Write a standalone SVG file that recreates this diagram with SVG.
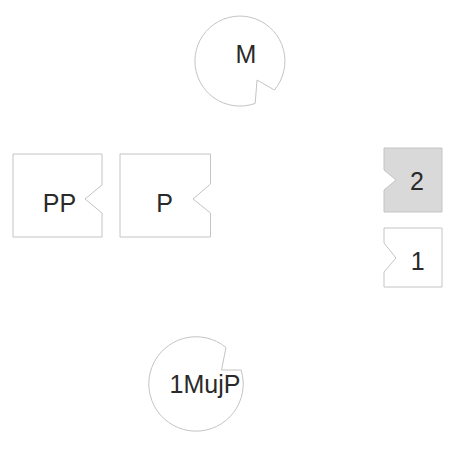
<svg xmlns="http://www.w3.org/2000/svg" width="450" height="452" viewBox="0 0 450 452">
<style>
.s{fill:#ffffff;stroke:#c4c4c4;stroke-width:1}
.g{fill:#d9d9d9;stroke:#c4c4c4;stroke-width:1}
.t{font-family:"Liberation Sans",Arial,sans-serif;font-size:25px;fill:#2a2a2a;text-anchor:middle}
</style>
<rect width="450" height="452" fill="#ffffff"/>
<g id="connectors"></g>
<g id="M">
<path class="s" d="M274.4 90 A45 45 0 1 0 255.2 103.4 L257 80 Z"/>
<text class="t" x="246" y="63">M</text>
</g>
<g id="PP">
<path class="s" d="M13 154 H102 V185 L85 199 L102 213 V237 H13 Z"/>
<text class="t" x="59.5" y="212">PP</text>
</g>
<g id="P">
<path class="s" d="M120 154 H210.5 V184 L193 199 L210.5 213 V237 H120 Z"/>
<text class="t" x="164.5" y="212">P</text>
</g>
<g id="n2">
<path class="g" d="M384 148 H442 V212 H384 V190 L396 180 L384 170 Z"/>
<text class="t" x="417" y="190">2</text>
</g>
<g id="n1">
<path class="s" d="M384 228 H442 V287 H384 V272 L396 258 L384 243 Z"/>
<text class="t" x="417.6" y="270">1</text>
</g>
<g id="n1MujP">
<path class="s" d="M241.1 370 A47.2 47.2 0 1 1 226 347.5 L221.5 370 Z"/>
<text class="t" x="205" y="393">1MujP</text>
</g>
</svg>
